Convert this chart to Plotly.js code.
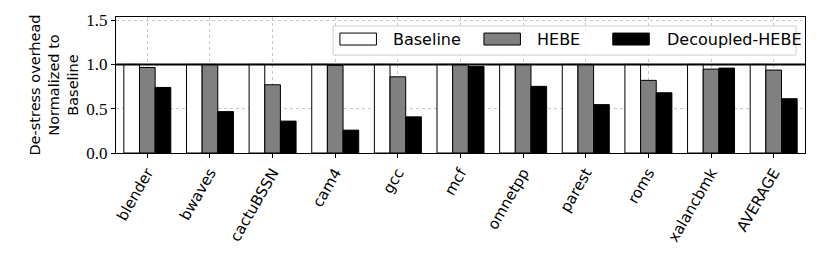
<!DOCTYPE html>
<html>
<head>
<meta charset="utf-8">
<script src="https://cdn.plot.ly/plotly-3.0.1.min.js"></script>
<style>body{margin:0;padding:0;background:#fff;} #chart{width:822px;height:256px;}</style>
</head>
<body>
<div id="chart"></div>
<script>
const categories = ["blender","bwaves","cactuBSSN","cam4","gcc","mcf","omnetpp","parest","roms","xalancbmk","AVERAGE"];
const baseline = [1,1,1,1,1,1,1,1,1,1,1];
const hebe = [0.965,1.0,0.77,0.99,0.86,1.0,1.0,1.0,0.82,0.947,0.936];
const decoupled = [0.74,0.467,0.36,0.258,0.408,0.977,0.752,0.546,0.68,0.958,0.613];
const seriesNames = ["Baseline","HEBE","Decoupled-HEBE"];
const seriesColors = ["#ffffff","#808080","#000000"];
const yTicks = [0,0.5,1.0,1.5];
const yTickText = ["0.0","0.5","1.0","1.5"];

const sans = "'DejaVu Sans', 'Open Sans', sans-serif";
const serif = "'Liberation Serif', 'DejaVu Serif', serif";

const allSeries = [baseline, hebe, decoupled];
const traces = allSeries.map((vals, i) => ({
  type: "bar",
  x: categories,
  y: vals,
  name: seriesNames[i],
  marker: {color: seriesColors[i], line: {color: "#000", width: 1}},
  showlegend: false,
  hoverinfo: "skip"
}));

// manual matplotlib-style legend
const shapes = [
  {type:"line", xref:"paper", yref:"y", x0:0, x1:1, y0:1, y1:1, line:{color:"#000", width:2}, layer:"above"},
  {type:"rect", xref:"paper", yref:"paper", x0:0.315, x1:0.987, y0:0.72, y1:0.934,
   fillcolor:"rgba(255,255,255,0.8)", line:{color:"#d0d0d0", width:1}, layer:"above"}
];
const annotations = [];
const legX = [0.325, 0.534, 0.721];
const textX = [0.399, 0.608, 0.797];
seriesNames.forEach((n, i) => {
  shapes.push({type:"rect", xref:"paper", yref:"paper", x0:legX[i], x1:legX[i]+0.053, y0:0.794, y1:0.882,
    fillcolor: seriesColors[i], line:{color:"#000", width:1}, layer:"above"});
  annotations.push({xref:"paper", yref:"paper", x:textX[i], y:0.838, xanchor:"left", yanchor:"middle",
    text:n, showarrow:false, font:{family:sans, size:16, color:"#000"}});
});

const layout = {
  width: 822, height: 256,
  margin: {l:116, r:17, t:17, b:103, pad:0},
  paper_bgcolor: "#fff", plot_bgcolor: "#fff",
  barmode: "group", bargap: 0.25, bargroupgap: 0,
  font: {family: sans, color:"#000"},
  xaxis: {
    type:"category", range:[-0.5, 10.5],
    tickangle: -60, tickfont:{family:sans, size:15},
    ticks:"outside", ticklen:4, tickcolor:"#000",
    showline:true, linecolor:"#000", linewidth:1, mirror:true,
    showgrid:true, gridcolor:"#c8c8c8", griddash:"dot", gridwidth:1,
    zeroline:false
  },
  yaxis: {
    range:[0, 1.535], tickvals:yTicks, ticktext:yTickText,
    tickfont:{family:serif, size:17},
    ticks:"outside", ticklen:4, tickcolor:"#000",
    showline:true, linecolor:"#000", linewidth:1, mirror:true,
    showgrid:true, gridcolor:"#c8c8c8", griddash:"dot", gridwidth:1,
    zeroline:false,
    title:{text:"De-stress overhead<br>Normalized to<br>Baseline", font:{family:sans, size:14.5}, standoff:4}
  },
  shapes: shapes,
  annotations: annotations
};

Plotly.newPlot("chart", traces, layout, {staticPlot:true, displayModeBar:false});
</script>
</body>
</html>
